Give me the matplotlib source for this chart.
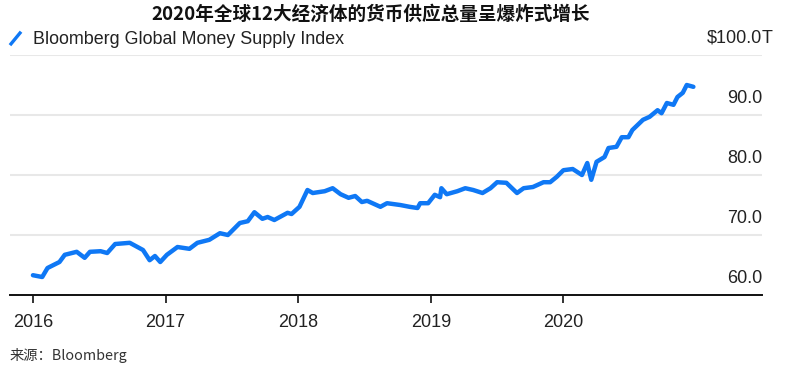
import matplotlib.pyplot as plt
from matplotlib.transforms import blended_transform_factory, offset_copy

plt.rcParams['font.family'] = ['Liberation Sans', 'Noto Sans CJK SC', 'DejaVu Sans']

# index level, trillions of USD (decimal years)
years = [2016.00, 2016.07, 2016.11, 2016.20, 2016.24, 2016.33, 2016.39, 2016.43,
         2016.51, 2016.56, 2016.62, 2016.73, 2016.83, 2016.88, 2016.92, 2016.96,
         2017.01, 2017.09, 2017.18, 2017.24, 2017.33, 2017.41, 2017.47, 2017.56,
         2017.62, 2017.67, 2017.73, 2017.77, 2017.82, 2017.92, 2017.95, 2018.01,
         2018.07, 2018.11, 2018.20, 2018.26, 2018.32, 2018.38, 2018.43, 2018.48,
         2018.52, 2018.62, 2018.67, 2018.77, 2018.84, 2018.90, 2018.92, 2018.98,
         2019.03, 2019.07, 2019.08, 2019.12, 2019.20, 2019.26, 2019.32, 2019.39,
         2019.45, 2019.50, 2019.57, 2019.65, 2019.70, 2019.77, 2019.85, 2019.90,
         2019.95, 2020.00, 2020.07, 2020.14, 2020.18, 2020.21, 2020.25, 2020.31,
         2020.34, 2020.40, 2020.44, 2020.49, 2020.52, 2020.60, 2020.65, 2020.71,
         2020.74, 2020.78, 2020.83, 2020.86, 2020.90, 2020.93, 2020.98]
values = [63.3, 63.0, 64.5, 65.5, 66.7, 67.2, 66.2, 67.2,
          67.3, 67.0, 68.5, 68.7, 67.5, 65.8, 66.5, 65.5,
          66.7, 68.0, 67.7, 68.7, 69.2, 70.3, 70.0, 72.0,
          72.3, 73.8, 72.7, 73.0, 72.5, 73.7, 73.5, 74.7,
          77.5, 77.0, 77.3, 77.8, 76.8, 76.2, 76.5, 75.5,
          75.7, 74.7, 75.3, 75.0, 74.7, 74.5, 75.3, 75.3,
          76.7, 76.3, 77.8, 76.8, 77.3, 77.8, 77.5, 77.0,
          77.8, 78.8, 78.7, 77.0, 77.8, 78.0, 78.8, 78.8,
          79.7, 80.8, 81.0, 80.0, 82.0, 79.2, 82.2, 83.0,
          84.5, 84.7, 86.3, 86.3, 87.5, 89.2, 89.7, 90.8,
          90.3, 92.0, 91.7, 93.0, 93.7, 95.0, 94.7]

x_ticks = [2016, 2017, 2018, 2019, 2020]
y_ticks = [60, 70, 80, 90, 100]
y_labels = ['60.0', '70.0', '80.0', '90.0', '$100.0']
unit = 'T'

title = '2020年全球12大经济体的货币供应总量呈爆炸式增长'
series_name = 'Bloomberg Global Money Supply Index'
source = '来源：Bloomberg'

blue = '#0f78f5'

fig = plt.figure(figsize=(7.93, 3.75), dpi=100)
ax = fig.add_axes([0.0126, 0.2133, 0.9484, 0.64])

ax.plot(years, values, color=blue, lw=3.2, solid_joinstyle='round',
        solid_capstyle='round')

ax.set_xlim(2015.827, 2021.498)
ax.set_ylim(60, 100)

for v in y_ticks[1:]:
    ax.axhline(v, color='#e8e8e8', lw=1.5, zorder=0)

for s in ['top', 'right', 'left']:
    ax.spines[s].set_visible(False)
ax.spines['bottom'].set_linewidth(1.4)
ax.spines['bottom'].set_color('#111111')

ax.set_xticks(x_ticks)
ax.set_xticklabels([str(y) for y in x_ticks], fontsize=13, color='#222222')
ax.tick_params(axis='x', length=6, width=1.2, color='#111111', pad=8)
ax.set_yticks([])

# value labels sit above their gridlines, right-aligned to the plot edge
trans = blended_transform_factory(ax.transAxes, ax.transData)
trans = offset_copy(trans, fig=fig, x=0, y=12, units='points')
for v, lab in zip(y_ticks, y_labels):
    ax.text(1.0, v, lab, transform=trans, ha='right', va='center',
            fontsize=13, color='#222222')
ax.text(1.0, y_ticks[-1], unit, transform=trans, ha='left', va='center',
        fontsize=13, color='#222222')

fig.text(0.468, 0.962, title, ha='center', va='center', fontsize=13.4,
         fontweight='bold', family=['Noto Sans CJK SC', 'DejaVu Sans'], color='#111111')

# legend swatch + label
fig.add_artist(plt.Line2D([0.0139, 0.0252], [0.883, 0.912], color=blue, lw=2.4,
                          transform=fig.transFigure))
fig.text(0.0416, 0.894, series_name, ha='left', va='center', fontsize=12.9,
         color='#222222')

fig.text(0.0126, 0.053, source, ha='left', va='center', fontsize=10.3,
         family=['Noto Sans CJK SC', 'DejaVu Sans'], color='#333333')

fig.savefig('out.png', dpi=100)
